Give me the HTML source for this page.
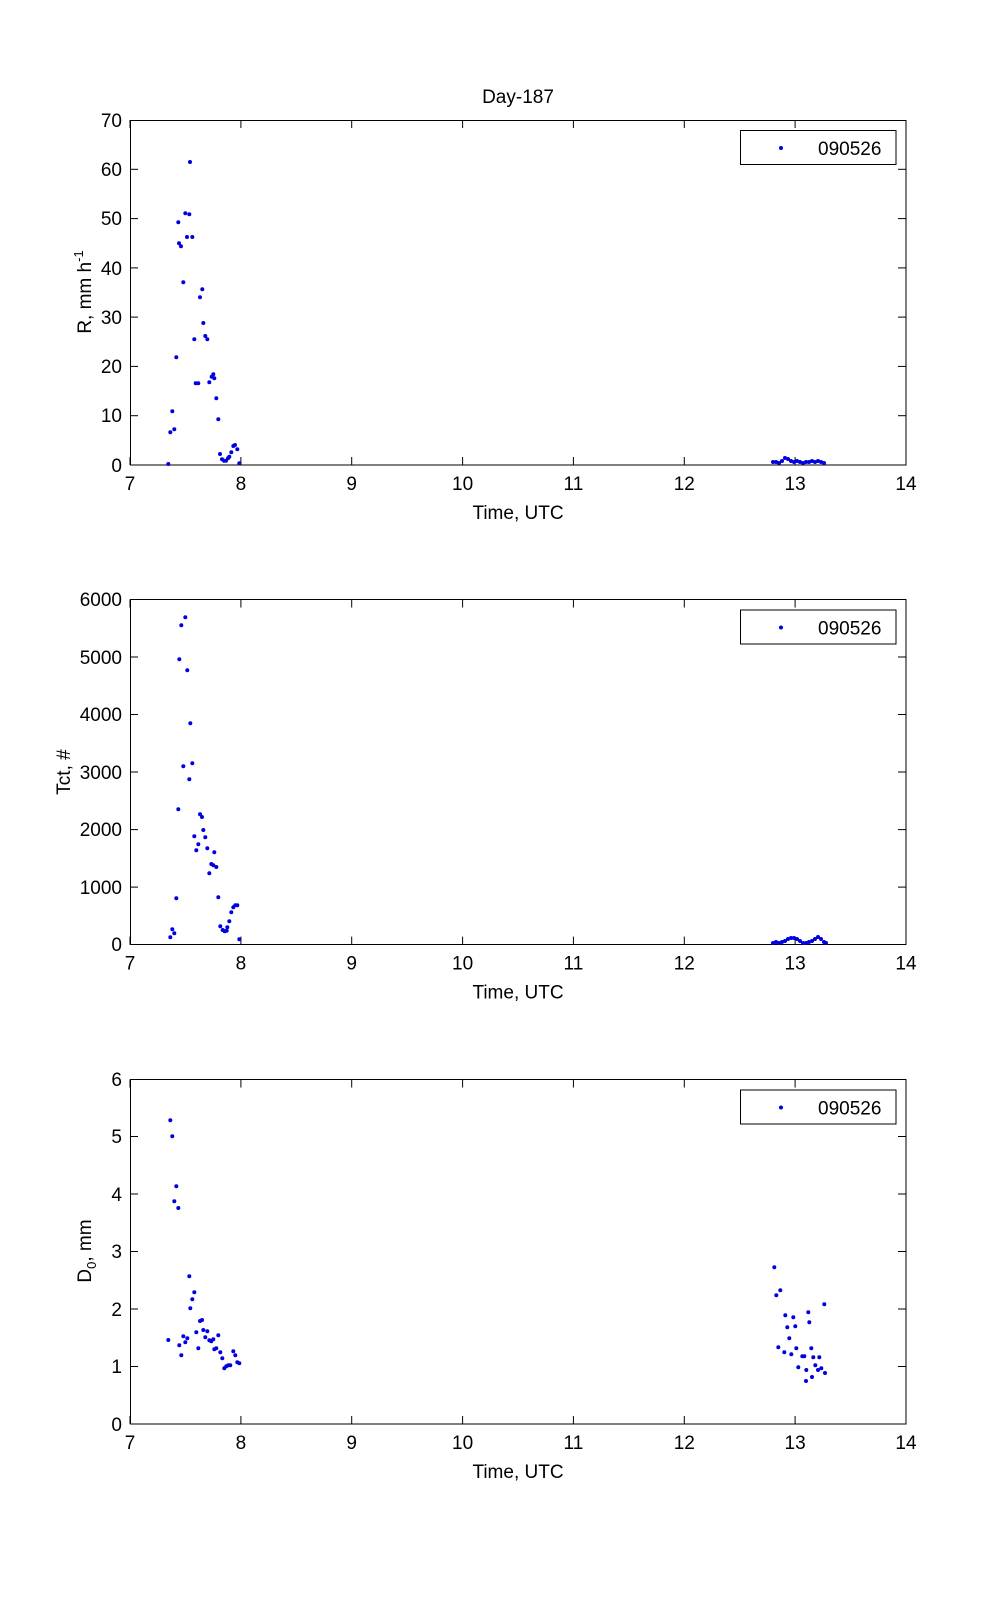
<!DOCTYPE html>
<html><head><meta charset="utf-8"><style>
html,body{margin:0;padding:0;background:#fff;}
svg text{font-family:"Liberation Sans",Arial,sans-serif;font-size:19px;fill:#000;}
</style></head><body>
<svg width="1001" height="1600" viewBox="0 0 1001 1600" xmlns="http://www.w3.org/2000/svg">
<defs>
<g id="xt" stroke="#000" stroke-width="1">
<line x1="130" y1="0" x2="130" y2="-8"/><line x1="240.9" y1="0" x2="240.9" y2="-8"/><line x1="351.7" y1="0" x2="351.7" y2="-8"/><line x1="462.6" y1="0" x2="462.6" y2="-8"/><line x1="573.4" y1="0" x2="573.4" y2="-8"/><line x1="684.3" y1="0" x2="684.3" y2="-8"/><line x1="795.1" y1="0" x2="795.1" y2="-8"/><line x1="906" y1="0" x2="906" y2="-8"/>
</g>
<g id="xl">
<text x="130" y="25" text-anchor="middle">7</text><text x="240.9" y="25" text-anchor="middle">8</text><text x="351.7" y="25" text-anchor="middle">9</text><text x="462.6" y="25" text-anchor="middle">10</text><text x="573.4" y="25" text-anchor="middle">11</text><text x="684.3" y="25" text-anchor="middle">12</text><text x="795.1" y="25" text-anchor="middle">13</text><text x="906" y="25" text-anchor="middle">14</text>
<text x="518" y="54" text-anchor="middle">Time, UTC</text>
</g>
<g id="leg">
<rect x="740.5" y="10.5" width="155.5" height="34" fill="#fff" stroke="#000" stroke-width="1"/>
<circle cx="781" cy="28" r="2" fill="#0000e0"/>
<text x="818" y="35" font-size="20">090526</text>
</g>
</defs>

<text x="518" y="103" text-anchor="middle">Day-187</text>

<!-- Plot 1 -->
<rect x="130.5" y="120.5" width="775.5" height="344.5" fill="none" stroke="#000"/>
<g transform="translate(0,465)"><use href="#xt"/><use href="#xl"/></g>
<g transform="translate(0,120) scale(1,-1)"><use href="#xt"/></g>
<g stroke="#000">
<line x1="130" y1="415.7" x2="138" y2="415.7"/><line x1="130" y1="366.4" x2="138" y2="366.4"/><line x1="130" y1="317.1" x2="138" y2="317.1"/><line x1="130" y1="267.9" x2="138" y2="267.9"/><line x1="130" y1="218.6" x2="138" y2="218.6"/><line x1="130" y1="169.3" x2="138" y2="169.3"/>
<line x1="906" y1="415.7" x2="898" y2="415.7"/><line x1="906" y1="366.4" x2="898" y2="366.4"/><line x1="906" y1="317.1" x2="898" y2="317.1"/><line x1="906" y1="267.9" x2="898" y2="267.9"/><line x1="906" y1="218.6" x2="898" y2="218.6"/><line x1="906" y1="169.3" x2="898" y2="169.3"/>
</g>
<g text-anchor="end">
<text x="122" y="472">0</text><text x="122" y="422">10</text><text x="122" y="373">20</text><text x="122" y="324">30</text><text x="122" y="275">40</text><text x="122" y="225">50</text><text x="122" y="176">60</text><text x="122" y="127">70</text>
</g>
<text transform="translate(91,292) rotate(-90)" text-anchor="middle">R, mm h<tspan font-size="13" dy="-8">-1</tspan></text>
<g transform="translate(0,120)"><use href="#leg"/></g>
<g fill="#0000e0">
<circle cx="190" cy="162" r="2"/><circle cx="185.3" cy="213.3" r="2"/><circle cx="189.3" cy="214.3" r="2"/><circle cx="178.3" cy="222.3" r="2"/><circle cx="187" cy="237" r="2"/><circle cx="192.3" cy="237" r="2"/><circle cx="179" cy="243.3" r="2"/><circle cx="181" cy="246.3" r="2"/><circle cx="183.3" cy="282.3" r="2"/><circle cx="202.3" cy="289.3" r="2"/><circle cx="200" cy="297.3" r="2"/><circle cx="203.3" cy="323" r="2"/><circle cx="194.3" cy="339.3" r="2"/><circle cx="205.3" cy="336" r="2"/><circle cx="207.3" cy="339.3" r="2"/><circle cx="176.3" cy="357.3" r="2"/><circle cx="195.7" cy="383.3" r="2"/><circle cx="198.3" cy="383.3" r="2"/><circle cx="209.3" cy="382.3" r="2"/><circle cx="211.7" cy="376.7" r="2"/><circle cx="213.3" cy="374.3" r="2"/><circle cx="214.3" cy="378.3" r="2"/><circle cx="216.3" cy="398.3" r="2"/><circle cx="218.3" cy="419.3" r="2"/><circle cx="172.3" cy="411.3" r="2"/><circle cx="170.3" cy="432.3" r="2"/><circle cx="174.3" cy="429.3" r="2"/><circle cx="168.3" cy="464" r="2"/>
<circle cx="220" cy="454" r="2"/><circle cx="222" cy="459.3" r="2"/><circle cx="224" cy="460.7" r="2"/><circle cx="226" cy="460.7" r="2"/><circle cx="228" cy="458.3" r="2"/><circle cx="229.3" cy="456.7" r="2"/><circle cx="231.3" cy="452.3" r="2"/><circle cx="233.3" cy="446" r="2"/><circle cx="235" cy="445" r="2"/><circle cx="237.3" cy="449.3" r="2"/><circle cx="239.3" cy="463.3" r="2"/>
<circle cx="773" cy="462" r="2"/><circle cx="776" cy="462" r="2"/><circle cx="779" cy="463" r="2"/><circle cx="782" cy="461" r="2"/><circle cx="785" cy="458" r="2"/><circle cx="788" cy="459" r="2"/><circle cx="791" cy="461" r="2"/><circle cx="794" cy="462" r="2"/><circle cx="797" cy="461" r="2"/><circle cx="800" cy="462" r="2"/><circle cx="803" cy="463" r="2"/><circle cx="806" cy="462" r="2"/><circle cx="809" cy="462" r="2"/><circle cx="812" cy="461" r="2"/><circle cx="815" cy="462" r="2"/><circle cx="818" cy="461" r="2"/><circle cx="821" cy="462" r="2"/><circle cx="824" cy="463" r="2"/>
</g>

<!-- Plot 2 -->
<rect x="130.5" y="599.5" width="775.5" height="345" fill="none" stroke="#000"/>
<g transform="translate(0,944.6)"><use href="#xt"/><use href="#xl"/></g>
<g transform="translate(0,599.5) scale(1,-1)"><use href="#xt"/></g>
<g stroke="#000">
<line x1="130" y1="887.1" x2="138" y2="887.1"/><line x1="130" y1="829.6" x2="138" y2="829.6"/><line x1="130" y1="772" x2="138" y2="772"/><line x1="130" y1="714.5" x2="138" y2="714.5"/><line x1="130" y1="657" x2="138" y2="657"/>
<line x1="906" y1="887.1" x2="898" y2="887.1"/><line x1="906" y1="829.6" x2="898" y2="829.6"/><line x1="906" y1="772" x2="898" y2="772"/><line x1="906" y1="714.5" x2="898" y2="714.5"/><line x1="906" y1="657" x2="898" y2="657"/>
</g>
<g text-anchor="end">
<text x="122" y="951">0</text><text x="122" y="894">1000</text><text x="122" y="836">2000</text><text x="122" y="779">3000</text><text x="122" y="721">4000</text><text x="122" y="664">5000</text><text x="122" y="606">6000</text>
</g>
<text transform="translate(70,772) rotate(-90)" text-anchor="middle">Tct, #</text>
<g transform="translate(0,599.5)"><use href="#leg"/></g>
<g fill="#0000e0">
<circle cx="185.3" cy="617.3" r="2"/><circle cx="181.3" cy="625.3" r="2"/><circle cx="179.3" cy="659.3" r="2"/><circle cx="187.3" cy="670.3" r="2"/><circle cx="190.3" cy="723.3" r="2"/><circle cx="183.3" cy="766.3" r="2"/><circle cx="192.3" cy="763.3" r="2"/><circle cx="189.3" cy="779.3" r="2"/><circle cx="178.3" cy="809.3" r="2"/><circle cx="200" cy="814.3" r="2"/><circle cx="202" cy="817" r="2"/><circle cx="203.3" cy="830" r="2"/><circle cx="194.3" cy="836.3" r="2"/><circle cx="205.3" cy="837.3" r="2"/><circle cx="198.3" cy="844.3" r="2"/><circle cx="196.3" cy="850.3" r="2"/><circle cx="207.3" cy="848.3" r="2"/><circle cx="214.3" cy="852.3" r="2"/><circle cx="211.3" cy="864" r="2"/><circle cx="213.3" cy="865.3" r="2"/><circle cx="216.3" cy="867" r="2"/><circle cx="209.3" cy="873.3" r="2"/><circle cx="176.3" cy="898.3" r="2"/><circle cx="218.3" cy="897.3" r="2"/><circle cx="172.3" cy="929.3" r="2"/><circle cx="174.3" cy="933.3" r="2"/><circle cx="170.3" cy="937.3" r="2"/><circle cx="220.3" cy="926.3" r="2"/><circle cx="222.7" cy="930" r="2"/><circle cx="224.7" cy="931.3" r="2"/><circle cx="226.7" cy="930.7" r="2"/><circle cx="227.3" cy="927.3" r="2"/><circle cx="229.3" cy="921.3" r="2"/><circle cx="231.3" cy="912.3" r="2"/><circle cx="233.3" cy="907.3" r="2"/><circle cx="235.3" cy="905.3" r="2"/><circle cx="237.3" cy="905.3" r="2"/><circle cx="239.3" cy="939.3" r="2"/>
<circle cx="773" cy="943" r="2"/><circle cx="776" cy="942" r="2"/><circle cx="779" cy="943" r="2"/><circle cx="782" cy="942" r="2"/><circle cx="785" cy="941" r="2"/><circle cx="788" cy="939" r="2"/><circle cx="791" cy="938" r="2"/><circle cx="794" cy="938" r="2"/><circle cx="797" cy="939" r="2"/><circle cx="800" cy="941" r="2"/><circle cx="803" cy="943" r="2"/><circle cx="806" cy="943" r="2"/><circle cx="809" cy="942" r="2"/><circle cx="812" cy="941" r="2"/><circle cx="815" cy="939" r="2"/><circle cx="818" cy="937" r="2"/><circle cx="821" cy="939" r="2"/><circle cx="824" cy="942" r="2"/><circle cx="826" cy="943" r="2"/>
</g>

<!-- Plot 3 -->
<rect x="130.5" y="1079.5" width="775.5" height="344.5" fill="none" stroke="#000"/>
<g transform="translate(0,1424)"><use href="#xt"/><use href="#xl"/></g>
<g transform="translate(0,1079.5) scale(1,-1)"><use href="#xt"/></g>
<g stroke="#000">
<line x1="130" y1="1366.5" x2="138" y2="1366.5"/><line x1="130" y1="1309" x2="138" y2="1309"/><line x1="130" y1="1251.5" x2="138" y2="1251.5"/><line x1="130" y1="1194" x2="138" y2="1194"/><line x1="130" y1="1136.5" x2="138" y2="1136.5"/>
<line x1="906" y1="1366.5" x2="898" y2="1366.5"/><line x1="906" y1="1309" x2="898" y2="1309"/><line x1="906" y1="1251.5" x2="898" y2="1251.5"/><line x1="906" y1="1194" x2="898" y2="1194"/><line x1="906" y1="1136.5" x2="898" y2="1136.5"/>
</g>
<g text-anchor="end">
<text x="122" y="1431">0</text><text x="122" y="1373">1</text><text x="122" y="1316">2</text><text x="122" y="1258">3</text><text x="122" y="1201">4</text><text x="122" y="1143">5</text><text x="122" y="1086">6</text>
</g>
<text transform="translate(91,1251) rotate(-90)" text-anchor="middle">D<tspan font-size="13" dy="5">0</tspan><tspan dy="-5">, mm</tspan></text>
<g transform="translate(0,1079.5)"><use href="#leg"/></g>
<g fill="#0000e0">
<circle cx="170.3" cy="1120.3" r="2"/><circle cx="172.3" cy="1136.3" r="2"/><circle cx="176.3" cy="1186.3" r="2"/><circle cx="174.3" cy="1201.3" r="2"/><circle cx="178.3" cy="1208" r="2"/><circle cx="189.3" cy="1276.3" r="2"/><circle cx="194.3" cy="1292.3" r="2"/><circle cx="192.3" cy="1299.3" r="2"/><circle cx="190.3" cy="1308.3" r="2"/><circle cx="200" cy="1321" r="2"/><circle cx="202" cy="1320" r="2"/><circle cx="203.3" cy="1330" r="2"/><circle cx="207.3" cy="1331.3" r="2"/><circle cx="196.3" cy="1332.3" r="2"/><circle cx="168.3" cy="1340" r="2"/><circle cx="183.3" cy="1336.3" r="2"/><circle cx="187.3" cy="1338.3" r="2"/><circle cx="205.3" cy="1337.3" r="2"/><circle cx="209.3" cy="1340.3" r="2"/><circle cx="211.3" cy="1341.3" r="2"/><circle cx="213.3" cy="1339.3" r="2"/><circle cx="218.3" cy="1335.3" r="2"/><circle cx="185.3" cy="1342.3" r="2"/><circle cx="179.3" cy="1345.3" r="2"/><circle cx="198.3" cy="1348.3" r="2"/><circle cx="214.3" cy="1349.3" r="2"/><circle cx="216.3" cy="1348.3" r="2"/><circle cx="181.3" cy="1355.3" r="2"/><circle cx="220.3" cy="1352.3" r="2"/><circle cx="222.3" cy="1358.3" r="2"/><circle cx="224.3" cy="1368.3" r="2"/><circle cx="226.3" cy="1366.3" r="2"/><circle cx="228.3" cy="1365.3" r="2"/><circle cx="230.3" cy="1365.3" r="2"/><circle cx="233.3" cy="1351.3" r="2"/><circle cx="235.3" cy="1355.3" r="2"/><circle cx="237.3" cy="1362.3" r="2"/><circle cx="239.3" cy="1363.3" r="2"/>
<circle cx="774.3" cy="1267.3" r="2"/><circle cx="780.3" cy="1290.3" r="2"/><circle cx="776.3" cy="1295.3" r="2"/><circle cx="824.3" cy="1304.3" r="2"/><circle cx="808.3" cy="1312.3" r="2"/><circle cx="785.3" cy="1315.3" r="2"/><circle cx="793.3" cy="1317.3" r="2"/><circle cx="809.3" cy="1322.3" r="2"/><circle cx="787.3" cy="1327.3" r="2"/><circle cx="795.3" cy="1326.3" r="2"/><circle cx="789.3" cy="1338.3" r="2"/><circle cx="778.3" cy="1347.3" r="2"/><circle cx="796.3" cy="1348.3" r="2"/><circle cx="811.3" cy="1348.3" r="2"/><circle cx="784.3" cy="1352.3" r="2"/><circle cx="791.3" cy="1354.3" r="2"/><circle cx="802.3" cy="1356.3" r="2"/><circle cx="804.3" cy="1356.3" r="2"/><circle cx="813.3" cy="1357.3" r="2"/><circle cx="819.3" cy="1357.3" r="2"/><circle cx="798.3" cy="1367.3" r="2"/><circle cx="815.3" cy="1365.3" r="2"/><circle cx="821.3" cy="1368.3" r="2"/><circle cx="806.3" cy="1370" r="2"/><circle cx="806" cy="1381" r="2"/><circle cx="825" cy="1373" r="2"/><circle cx="818" cy="1370" r="2"/><circle cx="812" cy="1377" r="2"/>
</g>
</svg>
</body></html>
